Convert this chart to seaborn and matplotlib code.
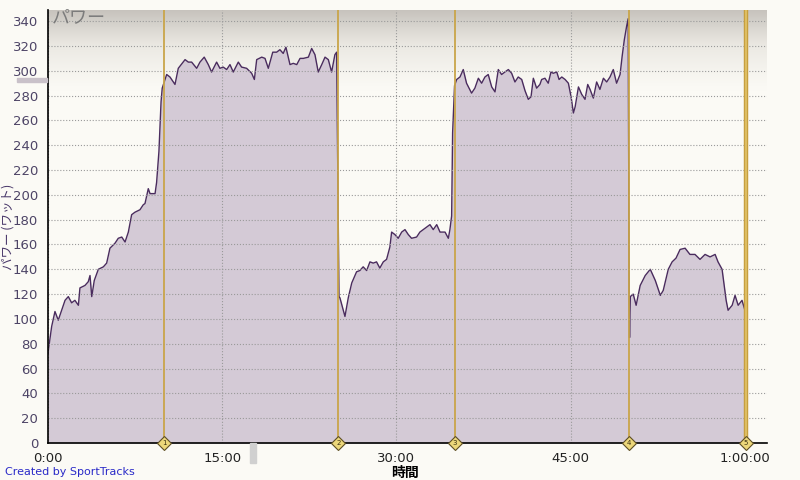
import numpy as np
import pandas as pd
import matplotlib
matplotlib.use("Agg")
import matplotlib.pyplot as plt
import seaborn as sns
from matplotlib.colors import LinearSegmentedColormap
from matplotlib.patches import Rectangle

# power trace: seconds from start, watts
secs = [0, 2, 19, 36, 53, 88, 105, 122, 139, 157, 165, 191, 208, 217, 226, 239,
        260, 286, 303, 320, 346, 363, 381, 398, 415, 432, 449, 475, 492, 501,
        518, 527, 553, 561, 573, 584, 590, 613, 630, 656, 673, 708, 725, 742,
        768, 785, 807, 828, 845, 871, 888, 905, 923, 940, 957, 983, 1000, 1026,
        1052, 1066, 1078, 1104, 1121, 1138, 1161, 1181, 1198, 1215, 1229, 1250,
        1267, 1285, 1302, 1319, 1345, 1362, 1379, 1396, 1414, 1431, 1448, 1465,
        1482, 1491, 1503, 1508, 1534, 1551, 1569, 1594, 1611, 1628, 1646, 1663,
        1680, 1697, 1714, 1732, 1749, 1766, 1775, 1792, 1809, 1827, 1844, 1861,
        1878, 1904, 1921, 1947, 1973, 1990, 2008, 2025, 2051, 2068, 2076, 2085,
        2090, 2100, 2111, 2128, 2145, 2162, 2188, 2205, 2223, 2240, 2257, 2274,
        2292, 2309, 2326, 2343, 2360, 2378, 2395, 2412, 2429, 2447, 2464, 2481,
        2495, 2507, 2524, 2541, 2550, 2567, 2584, 2598, 2610, 2628, 2640, 2654,
        2671, 2688, 2702, 2714, 2723, 2740, 2757, 2774, 2788, 2800, 2817, 2834,
        2851, 2869, 2886, 2903, 2920, 2937, 2955, 2966, 2977, 2989, 2997, 3002,
        3004, 3008, 3023, 3038, 3059, 3085, 3111, 3137, 3163, 3178, 3204, 3224,
        3244, 3265, 3291, 3316, 3342, 3368, 3394, 3420, 3446, 3461, 3482, 3503,
        3513, 3534, 3549, 3565, 3585, 3600, 3605]
watts = [72, 75, 94, 106, 99, 115, 118, 113, 115, 111, 125, 127, 130, 135, 118, 131,
         140, 142, 145, 157, 161, 165, 166, 162, 170, 184, 186, 188, 192, 193,
         205, 201, 201, 210, 235, 275, 286, 297, 295, 289, 302, 309, 307, 307,
         302, 307, 311, 305, 299, 307, 302, 303, 301, 305, 299, 307, 303, 302,
         298, 293, 309, 311, 310, 302, 315, 315, 317, 314, 319, 305,
         306, 305, 310, 310, 311, 318, 313, 299, 305, 311, 309, 299,
         313, 315, 118, 117, 102, 117, 129, 138, 139, 142, 139, 146,
         145, 146, 141, 146, 148, 158, 170, 168, 165, 170, 172, 168,
         165, 166, 170, 173, 176, 172, 176, 170, 170, 165, 172, 183,
         250, 288, 293, 295, 301, 290, 282, 286, 294, 290, 295, 297,
         287, 283, 301, 297, 299, 301, 298, 291, 295, 293, 284, 277,
         279, 294, 286, 289, 293, 294, 290, 299, 298, 299, 293, 295,
         293, 290, 279, 266, 271, 287, 281, 277, 289, 285, 278, 291,
         285, 294, 291, 295, 301, 290, 297, 312, 325, 336, 342, 115,
         85, 118, 120, 111, 127, 135, 140, 131, 119, 123, 140, 146,
         149, 156, 157, 152, 152, 148, 152, 150, 152, 146, 140, 115,
         107, 111, 119, 111, 115, 107, 110]

lap_secs = [600, 1500, 2100, 3000, 3605]
lap_names = ["1", "2", "3", "4", "5"]
xtick_min = [0, 15, 30, 45, 60]
xtick_labels = ["0:00", "15:00", "30:00", "45:00", "1:00:00"]
ytick_vals = list(range(0, 341, 20))

df = pd.DataFrame({"min": np.array(secs) / 60.0, "watt": watts})

sns.set_style("white")
plt.rcParams["font.family"] = ["DejaVu Sans", "Noto Sans CJK JP"]
cjk = ["Noto Sans CJK JP", "DejaVu Sans"]

bg = "#fbfaf5"
fig = plt.figure(figsize=(8, 4.8), dpi=100, facecolor=bg)
ax = fig.add_axes([48 / 800, 1 - 443 / 480, 719 / 800, 433 / 480])
ax.set_facecolor(bg)

xmax, ymax = 61.9, 349

# grey band fading down at the top of the plot
grad_cmap = LinearSegmentedColormap.from_list("band", [bg, "#ebe9e3", "#c7c3bd"])
grad = np.linspace(0, 1, 200).reshape(-1, 1) ** 1.2
ax.imshow(grad, extent=[0, xmax, 284, ymax], origin="lower", aspect="auto",
          cmap=grad_cmap, zorder=0)

ax.fill_between(df["min"], df["watt"], color="#d4cad6", lw=0, zorder=1)
sns.lineplot(data=df, x="min", y="watt", color="#4a2c5e", lw=1, ax=ax, zorder=2)

for i, (t, name) in enumerate(zip(lap_secs, lap_names)):
    m = t / 60.0
    if i == len(lap_secs) - 1:
        ax.axvline(m, color="#c79f3f", lw=3.2, zorder=3)
        ax.axvline(m, color="#e2c46a", lw=1.2, zorder=3)
    else:
        ax.axvline(m, color="#c9a54a", lw=1.3, zorder=3)
    ax.plot(m, 0, marker="D", ms=7.5, mfc="#ecd77a", mec="#5e4f25", mew=0.8,
            clip_on=False, zorder=6)
    ax.text(m, 0, name, fontsize=5, ha="center", va="center", color="#3a3010",
            zorder=7, clip_on=False)

ax.set_xlim(0, xmax)
ax.set_ylim(0, ymax)
ax.set_xticks(xtick_min)
ax.set_xticklabels(xtick_labels)
ax.set_yticks(ytick_vals)
ax.grid(True, ls=":", color="#9a9a9a", lw=0.8)
ax.set_axisbelow(False)
for gl in ax.get_xgridlines() + ax.get_ygridlines():
    gl.set_zorder(1.5)

for s in ["top", "right"]:
    ax.spines[s].set_visible(False)
for s in ["left", "bottom"]:
    ax.spines[s].set_color("black")
    ax.spines[s].set_linewidth(1.2)
    ax.spines[s].set_zorder(5)

ax.tick_params(axis="both", direction="out", length=5, width=1, color="black",
               labelsize=9.5, pad=1.5)
ax.tick_params(axis="y", labelcolor="#4d4466", pad=2)
ax.tick_params(axis="x", labelcolor="#222222")

ax.set_xlabel("時間", family=cjk, fontsize=10, fontweight="bold", color="black")
ax.xaxis.set_label_coords((405 - 48) / 719, (443 - 473) / 433)
ax.xaxis.label.set_va("center")
ax.set_ylabel("パワー (ワット)", family=cjk, fontsize=9, color="#4b3a6b")
ax.yaxis.set_label_coords(-40 / 719, 0.5)
ax.yaxis.label.set_va("center")

fig.text(52 / 800, 1 - 17 / 480, "パワー", family=cjk, fontsize=13,
         color="#7c7c7c", va="center", ha="left")
fig.text(5 / 800, 1 - 472 / 480, "Created by SportTracks", fontsize=8,
         color="#2a2ac8", va="center", ha="left")

fig.patches.append(Rectangle((250 / 800, 1 - 463 / 480), 6 / 800, 20 / 480,
                             transform=fig.transFigure, color="#d0d0d0"))
fig.patches.append(Rectangle((17 / 800, 1 - 82 / 480), 30 / 800, 4 / 480,
                             transform=fig.transFigure, color="#c9c1c9"))

fig.savefig("out.png", dpi=100, facecolor=bg)
